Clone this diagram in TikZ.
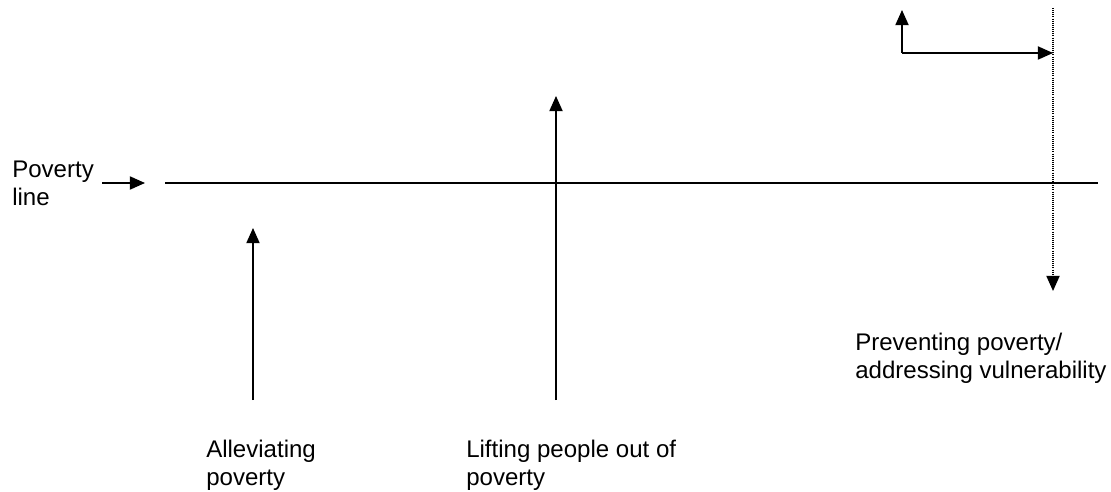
\documentclass[tikz,border=0pt]{standalone}
\usepackage{fontspec}
\setmainfont{Liberation Sans}
\usetikzlibrary{arrows.meta,calc,positioning}
\definecolor{pvink}{HTML}{000000}
\tikzset{
  pvlabel/.style={anchor=north west,align=left,inner sep=0pt,text=pvink,
    font=\fontsize{17.1}{19.8}\selectfont},
  pvline/.style={draw=pvink,line width=1.1pt},
  pvarrow/.style={draw=pvink,line width=1.1pt,-{Triangle[length=3.8mm,width=3.3mm]}},
  pvdotted/.style={draw=pvink,line width=1.1pt,dash pattern=on 0.6pt off 0.9pt,
    -{Triangle[length=3.8mm,width=3.3mm]}},
}
\begin{document}
\begin{tikzpicture}[x=0.025cm,y=-0.025cm]
        \path[use as bounding box] (0,0) rectangle (1111,492);
        % poverty line
        \coordinate (lineL) at (165,183);
        \coordinate (lineR) at (1098,183);
        \draw[pvline] (lineL)--(lineR);
        \node[pvlabel] (pline) at (12,161) {Poverty\\line};
        \coordinate (pstart) at (102,183);
        \coordinate (pin) at (145,183);
        \draw[pvarrow] (pstart)--(pin);
        % upward arrows
        \foreach \n/\x/\y in {alle/253/228,lift/556/96}
          {\coordinate (\n top) at (\x,\y);
           \coordinate (\n bot) at (\x,400);
           \draw[pvarrow] (\n bot)--(\n top);}
        \node[pvlabel] (alletext) at (206,440) {Alleviating\\poverty};
        \node[pvlabel] (lifttext) at (466,440) {Lifting people out of\\poverty};
        % preventing
        \coordinate (corner) at (902,53);
        \coordinate (cup) at (902,10);
        \coordinate (cright) at (1053,53);
        \draw[pvarrow] (corner)--(cup);
        \draw[pvarrow] (corner)--(cright);
        \coordinate (dtop) at (1053,8);
        \coordinate (dbot) at (1053,291);
        \draw[pvdotted] (dtop)--(dbot);
        \node[pvlabel] (prevtext) at (855,333) {Preventing poverty/\\addressing vulnerability};
      \end{tikzpicture}
\end{document}
